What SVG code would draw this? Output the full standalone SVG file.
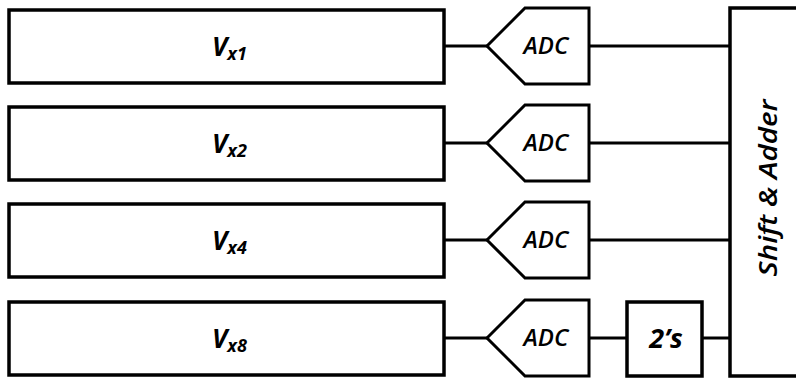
<svg xmlns="http://www.w3.org/2000/svg" width="796" height="379" viewBox="0 0 796 379">
<style>
.box{fill:#fff;stroke:#000;stroke-width:3.5}
.adc{fill:#fff;stroke:#000;stroke-width:3;stroke-linejoin:miter}
.wire{stroke:#000;stroke-width:3;fill:none}
.v{font-family:"Open Sans","DejaVu Sans",sans-serif;font-style:italic;font-weight:700;font-size:26px;fill:#000}
.sub{font-size:18px}
.t{font-family:"Open Sans","DejaVu Sans",sans-serif;font-style:italic;font-weight:600;font-size:24px;fill:#000;text-anchor:middle}
</style>
<rect width="796" height="379" fill="#fff"/>
<g id="connectors">
<line class="wire" x1="444" y1="46" x2="487" y2="46"/>
<line class="wire" x1="589" y1="46" x2="730" y2="46"/>
<line class="wire" x1="444" y1="143" x2="487" y2="143"/>
<line class="wire" x1="589" y1="143" x2="730" y2="143"/>
<line class="wire" x1="444" y1="240" x2="487" y2="240"/>
<line class="wire" x1="589" y1="240" x2="730" y2="240"/>
<line class="wire" x1="444" y1="338" x2="487" y2="338"/>
<line class="wire" x1="589" y1="338" x2="627" y2="338"/>
<line class="wire" x1="702" y1="338" x2="730" y2="338"/>
</g>
<g id="vx1"><rect class="box" x="9" y="10" width="435" height="73"/><text class="v" x="212" y="56">V<tspan class="sub" dy="4">x1</tspan></text></g>
<g id="vx2"><rect class="box" x="9" y="107" width="435" height="73"/><text class="v" x="212" y="153">V<tspan class="sub" dy="4">x2</tspan></text></g>
<g id="vx4"><rect class="box" x="9" y="204" width="435" height="73"/><text class="v" x="212" y="250">V<tspan class="sub" dy="4">x4</tspan></text></g>
<g id="vx8"><rect class="box" x="9" y="302" width="435" height="73"/><text class="v" x="212" y="348">V<tspan class="sub" dy="4">x8</tspan></text></g>
<g id="adc1"><polygon class="adc" points="487,46 525,8 589,8 589,84 525,84"/><text class="t" x="546" y="54">ADC</text></g>
<g id="adc2"><polygon class="adc" points="487,143 525,105 589,105 589,181 525,181"/><text class="t" x="546" y="151">ADC</text></g>
<g id="adc3"><polygon class="adc" points="487,240 525,202 589,202 589,278 525,278"/><text class="t" x="546" y="248">ADC</text></g>
<g id="adc4"><polygon class="adc" points="487,338 525,300 589,300 589,376 525,376"/><text class="t" x="546" y="346">ADC</text></g>
<g id="twos"><rect class="box" x="627" y="302" width="75" height="74"/><text class="t" x="666" y="348" style="font-size:27px;font-weight:700">2’s</text></g>
<g id="shift-adder"><rect class="box" x="730" y="8" width="80" height="368"/><text class="t" transform="translate(777,188) rotate(-90)" style="font-size:26px" textLength="177" lengthAdjust="spacingAndGlyphs">Shift &amp; Adder</text></g>
</svg>
